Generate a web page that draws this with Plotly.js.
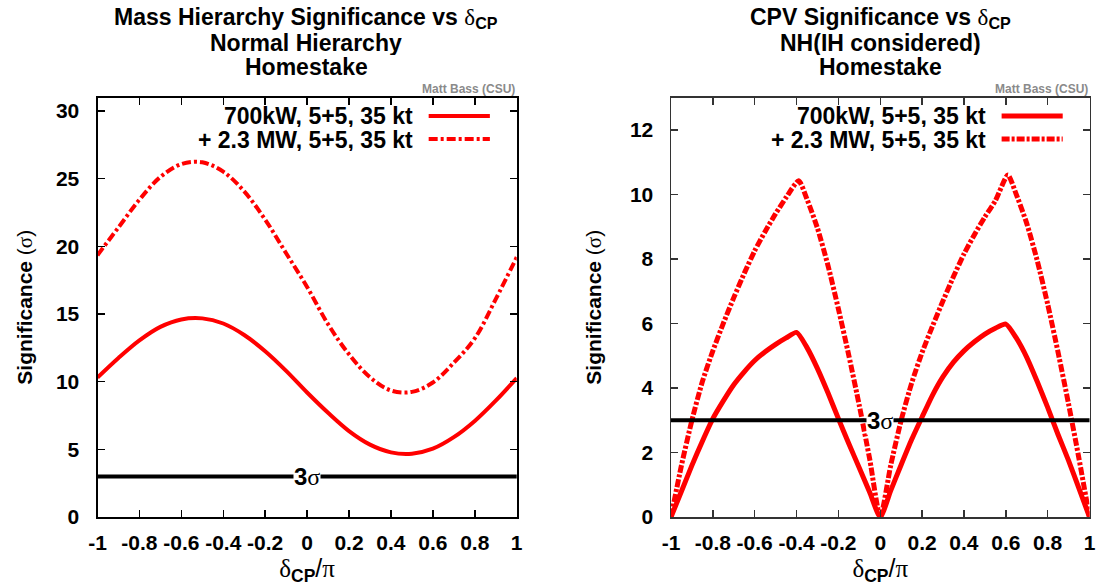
<!DOCTYPE html>
<html>
<head>
<meta charset="utf-8">
<script src="https://cdn.plot.ly/plotly-3.0.1.min.js"></script>
<style>html,body{margin:0;padding:0;background:#fff;}#chart{width:1097px;height:586px;}</style>
</head>
<body>
<div id="chart"></div>
<script>
// ---- Data: Mass hierarchy significance (left panel) ----
const xMH = [-1,-0.9,-0.8,-0.7,-0.6,-0.5,-0.4,-0.3,-0.2,-0.1,0,0.1,0.2,0.3,0.4,0.5,0.6,0.7,0.8,0.9,1];
const mh700kW = [10.3,11.75,13.05,14.05,14.6,14.68,14.3,13.45,12.25,10.8,9.2,7.7,6.35,5.35,4.78,4.68,5.05,5.9,7.1,8.6,10.27];
const mh23MW = [19.35,21.4,23.45,25.13,26.08,26.21,25.52,24.06,21.98,19.49,17.0,14.25,12.02,10.33,9.35,9.25,9.94,11.4,13.2,16.1,19.2];

// ---- Data: CPV significance (right panel) ----
const xCPV700 = [-1,-0.95,-0.9,-0.85,-0.8,-0.75,-0.7,-0.65,-0.6,-0.55,-0.5,-0.45,-0.4,-0.35,-0.3,-0.25,-0.2,-0.15,-0.1,-0.05,0,
                 0.05,0.1,0.15,0.2,0.25,0.3,0.35,0.4,0.45,0.5,0.55,0.6,0.65,0.7,0.75,0.8,0.85,0.9,0.95,1];
const cpv700kW = [0,0.8,1.6,2.35,3.05,3.6,4.1,4.5,4.85,5.12,5.35,5.55,5.72,5.25,4.6,3.85,3.05,2.27,1.52,0.76,0,
                  0.82,1.62,2.4,3.1,3.78,4.35,4.8,5.15,5.43,5.67,5.85,5.98,5.55,4.95,4.2,3.4,2.55,1.75,0.88,0];
const xCPV23 = [-1,-0.95,-0.9,-0.85,-0.8,-0.75,-0.7,-0.65,-0.6,-0.55,-0.5,-0.45,-0.39,-0.35,-0.3,-0.25,-0.2,-0.15,-0.1,-0.05,0,
                0.05,0.1,0.15,0.2,0.25,0.3,0.35,0.4,0.45,0.5,0.55,0.61,0.65,0.7,0.75,0.8,0.85,0.9,0.95,1];
const cpv23MW = [0,1.6,3.0,4.2,5.15,6.0,6.8,7.55,8.25,8.85,9.4,9.9,10.42,9.85,8.95,7.8,6.45,5.0,3.45,1.78,0,
                 1.6,3.0,4.15,5.1,5.92,6.7,7.45,8.15,8.75,9.3,9.8,10.6,10.0,9.1,7.95,6.6,5.1,3.5,1.8,0];

// ---- Labels / ticks ----
const seriesNames = ["700kW, 5+5, 35 kt", "+ 2.3 MW, 5+5, 35 kt"];
const xTickVals = [-1,-0.8,-0.6,-0.4,-0.2,0,0.2,0.4,0.6,0.8,1];
const xTickText = ["-1","-0.8","-0.6","-0.4","-0.2","0","0.2","0.4","0.6","0.8","1"];
const yTickValsMH = [0,5,10,15,20,25,30];
const yTickValsCPV = [0,2,4,6,8,10,12];
const threeSigma = 3;

const SERIF = "<span style=\"font-family:'Liberation Serif','DejaVu Serif',serif;font-weight:normal\">";
const d = SERIF + "δ</span>";
const sig = SERIF + "σ</span>";
const pi = SERIF + "π</span>";

const RED = "#ff0000";
const FONT = "'Liberation Sans', Arial, Helvetica, sans-serif";

const traces = [
  {x: xMH, y: mh700kW, xaxis: "x", yaxis: "y", type: "scatter", mode: "lines", name: seriesNames[0],
   line: {color: RED, width: 4, shape: "spline", smoothing: 1}, showlegend: false},
  {x: xMH, y: mh23MW, xaxis: "x", yaxis: "y", type: "scatter", mode: "lines", name: seriesNames[1],
   line: {color: RED, width: 4, shape: "spline", smoothing: 1, dash: "9px,3px,3px,3px"}, showlegend: false},
  {x: xCPV700, y: cpv700kW, xaxis: "x2", yaxis: "y2", type: "scatter", mode: "lines", name: seriesNames[0],
   line: {color: RED, width: 5, shape: "spline", smoothing: 0.6}, showlegend: false},
  {x: xCPV23, y: cpv23MW, xaxis: "x2", yaxis: "y2", type: "scatter", mode: "lines", name: seriesNames[1],
   line: {color: RED, width: 5, shape: "spline", smoothing: 0.6, dash: "8px,2px,3px,2px"}, showlegend: false}
];

function xAxis(domain, anchor, lw, lc) {
  return {
    domain: domain, anchor: anchor, range: [-1, 1],
    tickvals: xTickVals, ticktext: xTickText,
    ticks: "inside", ticklen: 7, tickwidth: 1.5, tickcolor: lc,
    mirror: "allticks", showline: true, linewidth: lw, linecolor: lc,
    showgrid: false, zeroline: false,
    ticklabelstandoff: 6,
    tickfont: {family: FONT, size: 21, color: "#000", weight: "bold"},
    title: {text: d + "<sub><b>CP</b></sub>/" + pi, font: {family: FONT, size: 25, color: "#000"}, standoff: 12}
  };
}
function yAxis(domain, anchor, range, vals, lw, lc, standoff) {
  return {
    domain: domain, anchor: anchor, range: range, tickvals: vals,
    ticks: "inside", ticklen: 7, tickwidth: 1.5, tickcolor: lc,
    mirror: "allticks", showline: true, linewidth: lw, linecolor: lc,
    showgrid: false, zeroline: false,
    ticklabelstandoff: 12,
    tickfont: {family: FONT, size: 21, color: "#000", weight: "bold"},
    title: {text: "<b>Significance</b> (" + sig + ")", font: {family: FONT, size: 21, color: "#000"}, standoff: standoff}
  };
}

const yDom = [0.1177, 0.8336];
const shapes = [];
const annotations = [];

function panelDecor(xr, yr, xdr, ydr, titleLines, titleX, lw, dash) {
  shapes.push({type: "line", xref: xdr, yref: yr, x0: 0, x1: 1, y0: threeSigma, y1: threeSigma,
               line: {color: "#000", width: 4}});
  annotations.push({xref: xr, yref: yr, x: 0, y: threeSigma, text: "<b>3</b>" + sig, showarrow: false,
                    bgcolor: "#fff", borderpad: 0, font: {family: FONT, size: 24, color: "#000"}});
  // legend
  const rows = [0.956, 0.901];
  for (let i = 0; i < 2; i++) {
    annotations.push({xref: xdr, yref: ydr, x: 0.757, y: rows[i], xanchor: "right", yanchor: "middle",
                      height: 23, valign: "middle",
                      text: "<b>" + seriesNames[i] + "</b>", showarrow: false,
                      font: {family: FONT, size: 23, color: "#000"}});
    shapes.push({type: "line", xref: xdr, yref: ydr, x0: 0.79, x1: 0.936, y0: rows[i], y1: rows[i],
                 line: {color: RED, width: lw, dash: i === 0 ? "solid" : dash}});
  }
  annotations.push({xref: xdr, yref: ydr, x: 1, y: 1, xanchor: "right", yanchor: "bottom", yshift: 0,
                    text: "<b>Matt Bass (CSU)</b>", showarrow: false,
                    font: {family: FONT, size: 12, color: "#8a8a8a"}});
  const ty = [18, 43, 67];
  for (let i = 0; i < 3; i++) {
    annotations.push({xref: "paper", yref: "paper", x: titleX, y: 1 - ty[i] / 586, xanchor: "center", yanchor: "middle",
                      height: 24, valign: "middle",
                      text: titleLines[i], showarrow: false, font: {family: FONT, size: 23, color: "#000"}});
  }
}

panelDecor("x", "y", "x domain", "y domain",
  ["<b>Mass Hierarchy Significance vs </b>" + d + "<sub><b>CP</b></sub>", "<b>Normal Hierarchy</b>", "<b>Homestake</b>"],
  (306) / 1097, 4, "9px,3px,3px,3px");
panelDecor("x2", "y2", "x2 domain", "y2 domain",
  ["<b>CPV Significance vs </b>" + d + "<sub><b>CP</b></sub>", "<b>NH(IH considered)</b>", "<b>Homestake</b>"],
  (880) / 1097, 5, "8px,2px,3px,2px");

const layout = {
  width: 1097, height: 586,
  margin: {l: 0, r: 0, t: 0, b: 0},
  paper_bgcolor: "#fff", plot_bgcolor: "#fff",
  font: {family: FONT, color: "#000"},
  showlegend: false,
  xaxis: xAxis([97.5 / 1097, 516.7 / 1097], "y", 2, "#000"),
  yaxis: yAxis(yDom, "x", [0, 31], yTickValsMH, 2, "#000", 18),
  xaxis2: xAxis([671 / 1097, 1089.5 / 1097], "y2", 1.5, "#333"),
  yaxis2: yAxis(yDom, "x2", [0, 13], yTickValsCPV, 1.5, "#333", 22),
  shapes: shapes,
  annotations: annotations
};

Plotly.newPlot("chart", traces, layout, {displayModeBar: false, staticPlot: true});
</script>
</body>
</html>
